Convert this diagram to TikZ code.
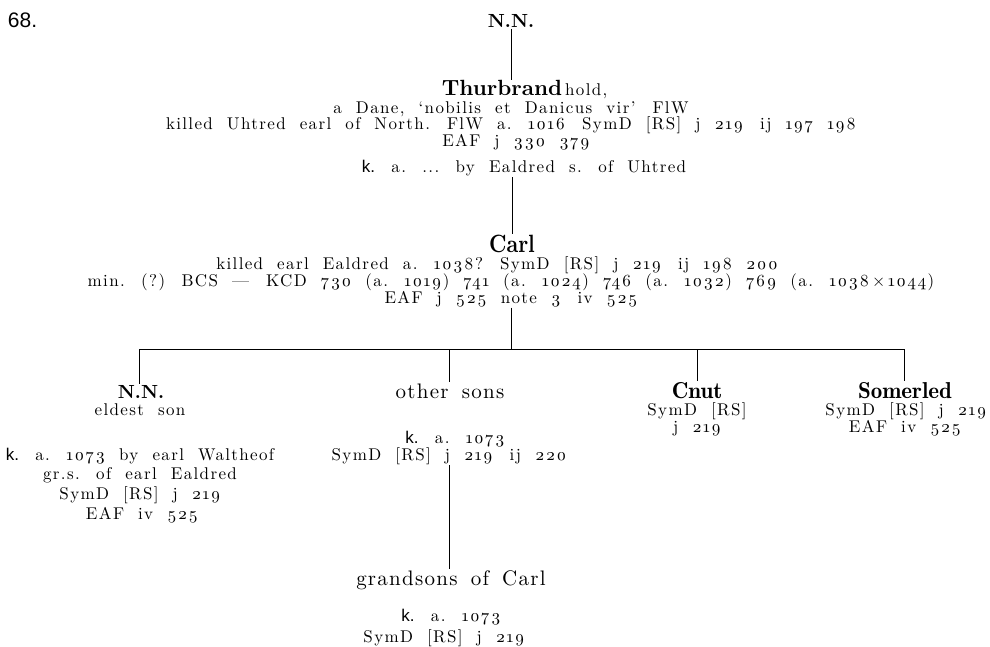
\documentclass[tikz,border=0pt]{standalone}
\usepackage{fontspec}
\setmainfont{lmroman10}[Extension=.otf, UprightFont=*-regular, BoldFont=*-bold, ItalicFont=*-italic, Numbers=OldStyle]
\newfontfamily\txtrm{lmroman10}[Extension=.otf, UprightFont=*-regular, BoldFont=*-bold, Numbers=OldStyle, LetterSpace=8, WordSpace=2]
\newfontfamily\bigrm{lmroman10}[Extension=.otf, UprightFont=*-regular, BoldFont=*-bold, Numbers=OldStyle, LetterSpace=6, WordSpace=1.6]
\newfontfamily\namebf{lmroman10}[Extension=.otf, UprightFont=*-bold, BoldFont=*-bold]
\newfontfamily\carlbf{lmroman10}[Extension=.otf, UprightFont=*-bold, BoldFont=*-bold, FakeStretch=0.84]
\newfontfamily\demirm{lmromandemi10}[Extension=.otf, UprightFont=*-regular, BoldFont=*-regular]
\newfontfamily\ksans{Liberation Sans}
\newcommand{\kk}{{\ksans k.}}
\begin{document}
\begin{tikzpicture}[x=1pt,y=-1pt,
  every node/.style={inner sep=1pt, outer sep=0pt},
  txt/.style={anchor=base, font=\fontsize{17}{19}\selectfont\txtrm},
  bigtxt/.style={anchor=base, font=\fontsize{21}{23}\selectfont\bigrm},
  namebig/.style={anchor=base, font=\fontsize{22}{24}\selectfont\namebf},
  namecarl/.style={anchor=base, font=\fontsize{25}{27}\selectfont\carlbf},
  namemid/.style={anchor=base, font=\fontsize{19}{21}\selectfont\namebf},
  namedemi/.style={anchor=base, font=\fontsize{23}{25}\selectfont\demirm},
  conn/.style={line width=0.9pt, black}]
\fill[white] (0,0) rectangle (990,647);
\useasboundingbox (0,0) rectangle (990,647);

% top
\node[anchor=base west, font=\fontsize{21}{23}\selectfont\ksans] (num) at (7,28) {68.};
\node[namemid] (nn) at (511,28) {N.N.};
\node[namebig, text depth=0pt] (thur) at (502,96) {Thurbrand};
\node[txt, anchor=base west, text depth=0pt] (hold) at ([xshift=1pt]thur.base east) {hold,};
\node[txt] (dane) at (511,114) {a Dane, ‘nobilis et Danicus vir’\quad FlW};
\node[txt] (kill) at (511,130) {killed Uhtred earl of North.\quad FlW a. 1016\quad SymD [RS] j 219\quad ij 197 198};
\node[txt] (eafa) at (516,147) {EAF j 330 379};
\node[txt] (kaby) at (524,173) {\kk{} a. ... by Ealdred s. of Uhtred};

\node[namecarl, text depth=0pt] (carl) at (512,252) {Carl};
\node[txt] (ca1) at (497,269) {killed earl Ealdred a. 1038?\quad SymD [RS] j 219\quad ij 198 200};
\node[txt] (ca2) at (511,286) {min. (?) BCS —\quad KCD 730 (a. 1019) 741 (a. 1024) 746 (a. 1032) 769 (a. 1038\,×\,1044)};
\node[txt] (ca3) at (511,303) {EAF j 525 note 3\quad iv 525};

\draw[conn] (nn.south) -- (nn.south |- thur.north);
\draw[conn] (carl.north |- kaby.south) -- (carl.north);

% branch
\coordinate (br) at (511,349);
\coordinate (b1) at (139,349);
\coordinate (b2) at (449,349);
\coordinate (b3) at (697,349);
\coordinate (b4) at (904,349);
\draw[conn] (ca3.south -| br) -- (br);
\draw[conn] (b1) -- (b4);

% children
\node[namemid] (nnc) at (141,398) {N.N.};
\node[txt] (eld) at (140,415) {eldest son};
\node[txt] (l1) at (140,460) {\kk{} a. 1073 by earl Waltheof};
\node[txt] (l2) at (140,479) {gr.s. of earl Ealdred};
\node[txt] (l3) at (140,499) {SymD [RS] j 219};
\node[txt] (l4) at (142,519) {EAF iv 525};

\node[bigtxt] (oth) at (450,398) {other sons};
\node[txt] (o1) at (455,443) {\kk{} a. 1073};
\node[txt] (o2) at (449,460) {SymD [RS] j 219\quad ij 220};

\node[bigtxt] (grd) at (451,585) {grandsons of Carl};
\node[txt] (g1) at (451,621) {\kk{} a. 1073};
\node[txt] (g2) at (444,642) {SymD [RS] j 219};

\node[namedemi] (cnut) at (697,398) {Cnut};
\node[txt] (cn1) at (697,415) {SymD [RS]};
\node[txt] (cn2) at (697,432) {j 219};

\node[namedemi] (som) at (905,398) {Somerled};
\node[txt] (so1) at (906,415) {SymD [RS] j 219};
\node[txt] (so2) at (905,432) {EAF iv 525};

\draw[conn] (b1) -- (b1 |- nnc.north);
\draw[conn] (b2) -- (b2 |- oth.north);
\draw[conn] (b3) -- (b3 |- cnut.north);
\draw[conn] (b4) -- (b4 |- som.north);
\draw[conn] (o2.south -| b2) -- (b2 |- grd.north);
\end{tikzpicture}
\end{document}
